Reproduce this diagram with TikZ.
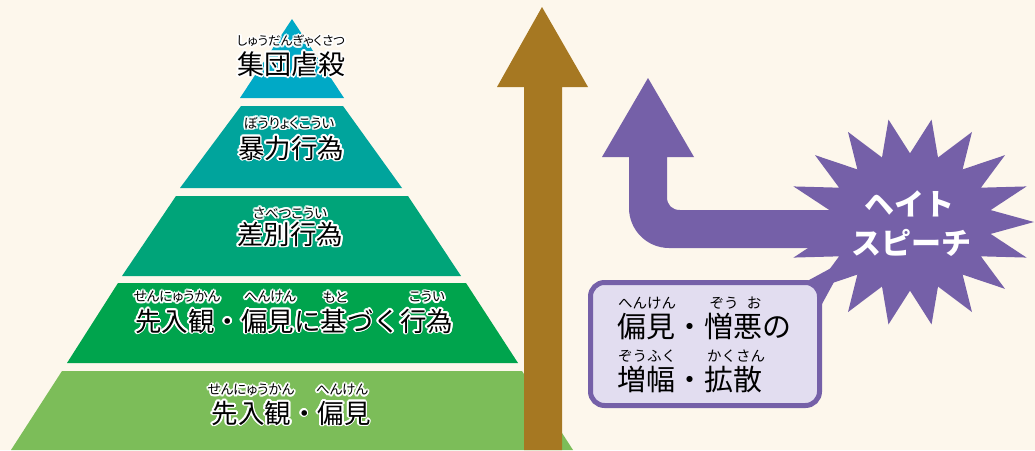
\documentclass[tikz,border=0pt]{standalone}
\usepackage{fontspec}
\newfontfamily\jp{Noto Sans CJK JP}
\newfontfamily\jpr{Noto Sans CJK JP}[RawFeature=+palt]
\usetikzlibrary{calc}
\definecolor{bg}{RGB}{253,247,236}
\definecolor{bandA}{RGB}{0,169,198}
\definecolor{bandB}{RGB}{0,164,156}
\definecolor{bandC}{RGB}{0,164,121}
\definecolor{bandD}{RGB}{0,164,77}
\definecolor{bandE}{RGB}{124,189,89}
\definecolor{brownarrow}{RGB}{166,120,34}
\definecolor{purp}{RGB}{117,96,168}
\definecolor{lav}{RGB}{226,221,240}
\tikzset{
  halo/.style={inner sep=0pt,text=white},
  txt/.style={inner sep=0pt,text=black},
}
\newcommand\hlab[5]{%
  \foreach \a in {0,30,...,330}{\node[halo,font=#4] at ($(#2,#3)+(\a:1.9)$) {#5};}
  \node[txt,font=#4] (#1) at (#2,#3) {#5};}
\newcommand\mainf{\jp\fontsize{26.5}{28}\selectfont}
\newcommand\rubf{\jpr\fontsize{13.5}{15}\selectfont}
\newcommand\boxrubf{\jp\fontsize{14.5}{16}\selectfont}
\begin{document}
\begin{tikzpicture}[x=1pt,y=-1pt]
\useasboundingbox (0,0) rectangle (1035,450);
\fill[bg] (0,0) rectangle (1035,450);
% pyramid
\fill[bandA] (292,19) -- (344,98) -- (240,98) -- cycle;
\fill[bandB] (241,106) -- (343,106) -- (402,188) -- (180,188) -- cycle;
\fill[bandC] (176,196) -- (408,196) -- (461,276) -- (122,276) -- cycle;
\fill[bandD] (118,283) -- (466,283) -- (518,363) -- (67,363) -- cycle;
\fill[bandE] (62,371) -- (522,371) -- (573,450) -- (11,450) -- cycle;
% labels
\hlab{r1}{291}{41}{\jpr\fontsize{12.5}{14}\selectfont}{しゅうだんぎゃくさつ}
\hlab{m1}{291}{64}{\jp\fontsize{27}{28}\selectfont}{集団虐殺}
\hlab{r2}{289}{123}{\rubf}{ぼうりょくこうい}
\hlab{m2}{291}{148}{\mainf}{暴力行為}
\hlab{r3}{290}{213}{\rubf}{さべつこうい}
\hlab{m3}{290}{234}{\mainf}{差別行為}
\hlab{r4a}{177}{297}{\rubf}{せんにゅうかん}
\hlab{r4b}{270}{297}{\rubf}{へんけん}
\hlab{r4c}{335}{297}{\rubf}{もと}
\hlab{r4d}{427}{297}{\rubf}{こうい}
\hlab{m4}{294}{321}{\mainf}{先入観・偏見に基づく行為}
\hlab{r5a}{251}{390}{\rubf}{せんにゅうかん}
\hlab{r5b}{342}{390}{\rubf}{へんけん}
\hlab{m5}{291}{413}{\mainf}{先入観・偏見}
% brown arrow
\fill[brownarrow] (542,7) -- (588,87) -- (562,87) -- (562,450) -- (524,450) -- (524,87) -- (497,87) -- cycle;
% star
\fill[purp] (1034,222)
  \foreach \i [evaluate=\i as \rr using {ifthenelse(mod(\i,2)==0,1,0.66)}] in {1,...,35}
  { -- ({910+124*\rr*cos(\i*10)},{222+104*\rr*sin(\i*10)}) } -- cycle;
% purple arrow
\fill[purp] (648,78) -- (694,157) -- (667,157) -- (667,197)
  .. controls (667,205) and (672,210) .. (680,210) -- (900,210) -- (900,248) -- (669,248)
  .. controls (647,248) and (629,230) .. (629,208) -- (629,157) -- (602,157) -- cycle;
% callout tail
\fill[purp] (798,286) -- (846,260) -- (822,304) -- cycle;
% speech box
\draw[purp,line width=5pt,fill=lav,rounded corners=14pt] (590.5,282.5) rectangle (819.5,405.5);
\node[txt,font=\jp\fontsize{29}{30}\selectfont,anchor=west] (b1) at (617,327) {偏見・憎悪の};
\node[txt,font=\jp\fontsize{29}{30}\selectfont,anchor=west] (b2) at (617,379) {増幅・拡散};
\node[txt,font=\boxrubf] (br1) at (647,303) {へんけん};
\node[txt,font=\boxrubf] (br2) at (724,303) {ぞう};
\node[txt,font=\boxrubf] (br3) at (754,303) {お};
\node[txt,font=\boxrubf] (br4) at (647,356) {ぞうふく};
\node[txt,font=\boxrubf] (br5) at (736,356) {かくさん};
% star text
\node[text=white,font=\jp\bfseries\fontsize{30}{32}\selectfont] (s1) at (909,204) {ヘイト};
\node[text=white,font=\jp\bfseries\fontsize{30}{32}\selectfont] (s2) at (911,243) {スピーチ};
\end{tikzpicture}
\end{document}
